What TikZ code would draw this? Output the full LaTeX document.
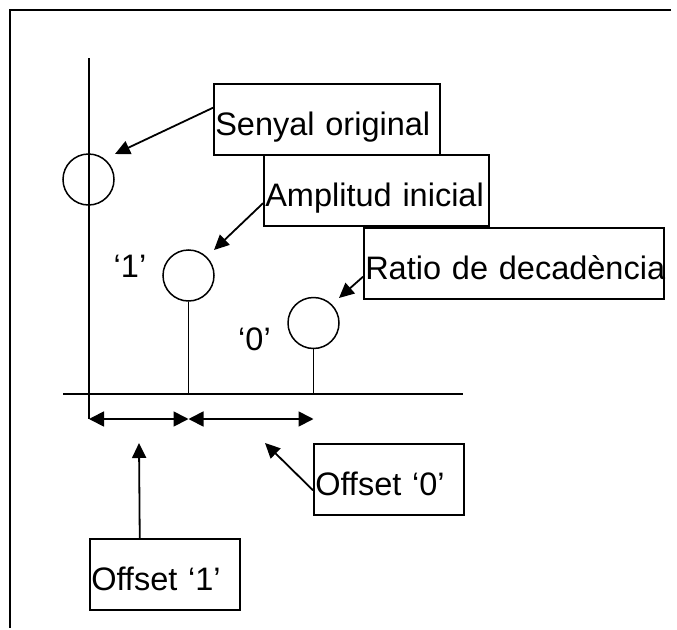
\documentclass[tikz,border=0pt]{standalone}
\usepackage{fontspec}
\setmainfont{Liberation Sans}
\usetikzlibrary{arrows.meta}
\tikzset{
  tagbox/.style={draw, line width=1.5pt, anchor=north west, inner xsep=1.5pt,
    inner ysep=0pt, text height=52pt, text depth=19pt, align=left,
    font=\fontsize{32.5}{38}\selectfont},
  sample/.style={circle, draw, line width=1.5pt, minimum size=51pt, inner sep=0pt},
  axisline/.style={line width=1.5pt},
  pointer/.style={line width=1.8pt, -{Triangle[length=15pt,width=14pt]}},
  span/.style={line width=1.8pt,
    {Triangle[length=15pt,width=15pt]}-{Triangle[length=15pt,width=15pt]}},
  bit/.style={anchor=base, inner sep=0pt, font=\fontsize{32.5}{38}\selectfont}
}
\begin{document}
\begin{tikzpicture}[x=1pt,y=-1pt]
% white page
\fill[white] (0,0) rectangle (677,629);

% outer frame, open towards the right and the bottom
\draw[line width=2pt] (671,10) -- (10,10) -- (10,628);

% axes and reference points
\coordinate (ytop) at (89,58);
\coordinate (ybot) at (89,419);
\coordinate (xl) at (63,394);
\coordinate (xr) at (463,394);
\coordinate (b2) at (188.5,394);
\coordinate (b3) at (313.5,394);
\coordinate (d2) at (188.5,419);
\coordinate (d3) at (313.5,419);

\draw[axisline] (ytop) -- (ybot);
\draw[axisline] (xl) -- (xr);

% pulses
\node[sample] (c1) at (88.5,179.5) {};
\node[sample] (c2) at (188.5,275.5) {};
\node[sample] (c3) at (313.5,323) {};
\draw[axisline] (c2.south) -- (b2);
\draw[axisline] (c3.south) -- (b3);

% bit labels
\node[bit] (q1) at (130,277) {‘1’};
\node[bit] (q0) at (254.5,350) {‘0’};

% offset spans
\draw[span] (ybot) -- (d2);
\draw[span] (d2) -- (d3);

% callout boxes
\node[tagbox, text width=223pt] (sen) at (213,83) {\mbox{Senyal original}};
\node[tagbox, text width=222pt] (amp) at (263,154) {\mbox{Amplitud inicial}};
\node[tagbox, text width=297pt] (rat) at (363,227) {\mbox{Ratio de decadència}};
\node[tagbox, text width=147pt] (off0) at (313,443) {\mbox{Offset ‘0’}};
\node[tagbox, text width=147pt] (off1) at (89,538) {\mbox{Offset ‘1’}};

% callout pointers
\coordinate (t1) at (115,154);
\coordinate (t2) at (214,250);
\coordinate (t3) at (339,298);
\coordinate (t4) at (265,443);
\coordinate (t5) at (139,443);
\draw[pointer] ([yshift=11.5pt]sen.west) -- (t1);
\draw[pointer] ([yshift=-13pt]amp.west) -- (t2);
\draw[pointer] ([yshift=-13.5pt]rat.west) -- (t3);
\draw[pointer] ([yshift=-11pt]off0.west) -- (t4);
\draw[pointer] ([xshift=-25pt]off1.north) -- (t5);
\end{tikzpicture}
\end{document}
